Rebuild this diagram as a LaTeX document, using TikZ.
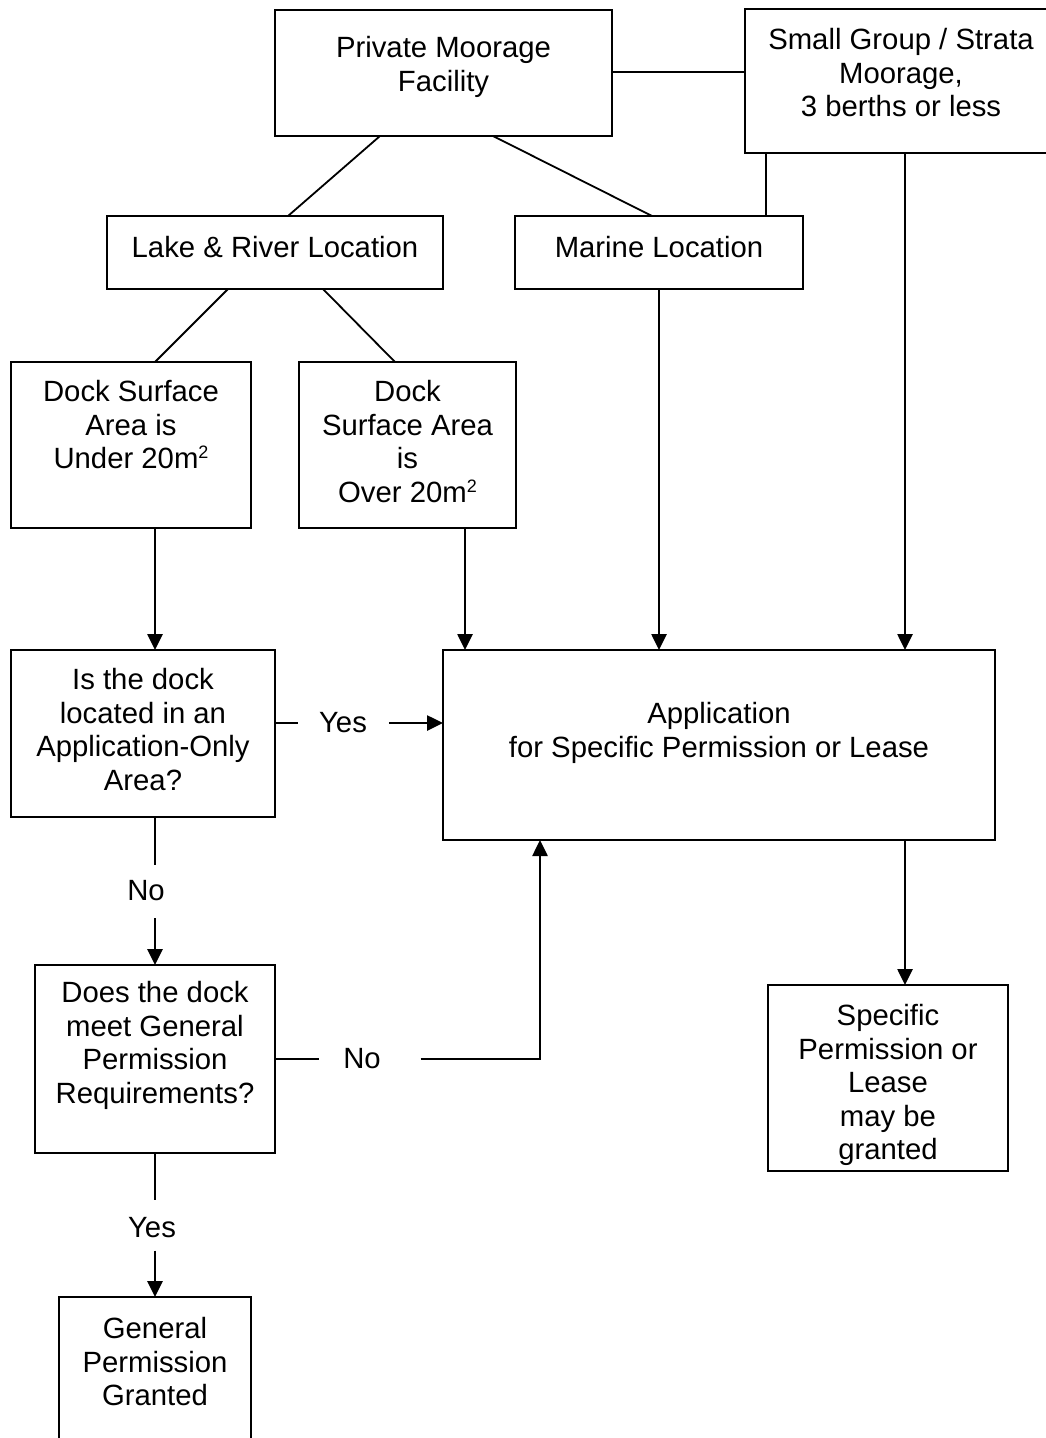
\documentclass[tikz,border=0pt]{standalone}
\usepackage{fontspec}
\setmainfont{Liberation Sans}
\usetikzlibrary{arrows.meta,calc}
\newcommand\msq{\raisebox{10pt}{\fontsize{18}{18}\selectfont 2}}
\begin{document}
\begin{tikzpicture}[x=1pt,y=-1pt,
  font=\fontsize{29.3}{33.5}\selectfont,
  line width=1.8pt,
  box/.style 2 args={draw, line width=1.7pt, inner sep=0pt, outer sep=0pt, anchor=north west, minimum width=#1, minimum height=#2},
  txt/.style={anchor=north, align=center, inner sep=0pt},
  lab/.style={inner sep=0pt},
  arr/.style={line width=2.6pt, -{Triangle[length=16pt,width=15pt]}}]
\useasboundingbox (0,0) rectangle (1046,1438);
\clip (0,0) rectangle (1046,1438);

% boxes
\node[box={337pt}{126pt}, label={[txt,yshift=-25.5pt]north:{Private Moorage\\Facility}}] (priv) at (275,10) {};
\node[box={312pt}{144pt}, label={[txt,yshift=-18.5pt]north:{Small Group / Strata\\Moorage,\\3 berths or less}}] (small) at (745,9) {};
\node[box={336pt}{73pt}, label={[txt,yshift=-19.5pt]north:{Lake \& River Location}}] (lake) at (107,216) {};
\node[box={288pt}{73pt}, label={[txt,yshift=-19.5pt]north:{Marine Location}}] (marine) at (515,216) {};
\node[box={240pt}{166pt}, label={[txt,yshift=-17.5pt]north:{Dock Surface\\Area is\\Under 20m\msq}}] (under) at (11,362) {};
\node[box={217pt}{166pt}, label={[txt,yshift=-17.5pt]north:{Dock\\Surface Area\\is\\Over 20m\msq}}] (over) at (299,362) {};
\node[box={264pt}{167pt}, label={[txt,yshift=-17.5pt]north:{Is the dock\\located in an\\Application-Only\\Area?}}] (isdock) at (11,650) {};
\node[box={552pt}{190pt}, label={[txt,yshift=-51.5pt]north:{Application\\for Specific Permission or Lease}}] (app) at (443,650) {};
\node[box={240pt}{188pt}, label={[txt,yshift=-15.5pt]north:{Does the dock\\meet General\\Permission\\Requirements?}}] (does) at (35,965) {};
\node[box={240pt}{186pt}, label={[txt,yshift=-18.5pt]north:{Specific\\Permission or\\Lease\\may be\\granted}}] (spec) at (768,985) {};
\node[box={192pt}{170pt}, label={[txt,yshift=-19.5pt]north:{General\\Permission\\Granted}}] (gen) at (59,1297) {};

% labels on connectors
\node[lab] (yes1) at (343,723) {Yes};
\node[lab] (no1) at (146,891) {No};
\node[lab] (no2) at (362,1059) {No};
\node[lab] (yes2) at (152,1228) {Yes};

% connectors
\draw ([yshift=1pt]priv.east) -- ([yshift=1pt]priv.east -| small.west);
\draw ([xshift=105pt]priv.south west) -- ([xshift=13pt]lake.north);
\draw ([xshift=218pt]priv.south west) -- ([xshift=-7pt]marine.north);
\coordinate (s1) at ([xshift=21pt]small.south west);
\draw (s1) -- (s1 |- marine.north);
\coordinate (s2) at ([xshift=160pt]small.south west);
\draw[arr] (s2) -- (s2 |- app.north);
\draw ([xshift=121pt]lake.south west) -- ([xshift=144pt]under.north west);
\draw ([xshift=216pt]lake.south west) -- ([xshift=96pt]over.north west);
\coordinate (u1) at ([xshift=144pt]under.south west);
\draw[arr] (u1) -- (u1 |- isdock.north);
\coordinate (o1) at ([xshift=166pt]over.south west);
\draw[arr] (o1) -- (o1 |- app.north);
\draw[arr] (marine.south) -- (marine.south |- app.north);

\draw ([yshift=10.5pt]isdock.east) -- ($(yes1.west)+(-20,0)$);
\draw[arr] ($(yes1.east)+(21,0)$) -- (yes1.east -| app.west);

\coordinate (a1) at ([xshift=144pt]isdock.south west);
\draw (a1) -- ($(a1 |- no1.north)+(0,-15)$);
\draw[arr] ($(a1 |- no1.south)+(0,16)$) -- (a1 |- does.north);

\draw (does.east) -- ($(no2.west)+(-23,0)$);
\coordinate (a3) at ([xshift=97pt]app.south west);
\draw[arr] ($(no2.east)+(39,0)$) -| (a3);

\coordinate (a4) at ([xshift=462pt]app.south west);
\draw[arr] (a4) -- (a4 |- spec.north);

\coordinate (a2) at ([xshift=120pt]does.south west);
\draw (a2) -- ($(a2 |- yes2.north)+(0,-16.5)$);
\draw[arr] ($(a2 |- yes2.south)+(0,11.5)$) -- (a2 |- gen.north);
\end{tikzpicture}
\end{document}
